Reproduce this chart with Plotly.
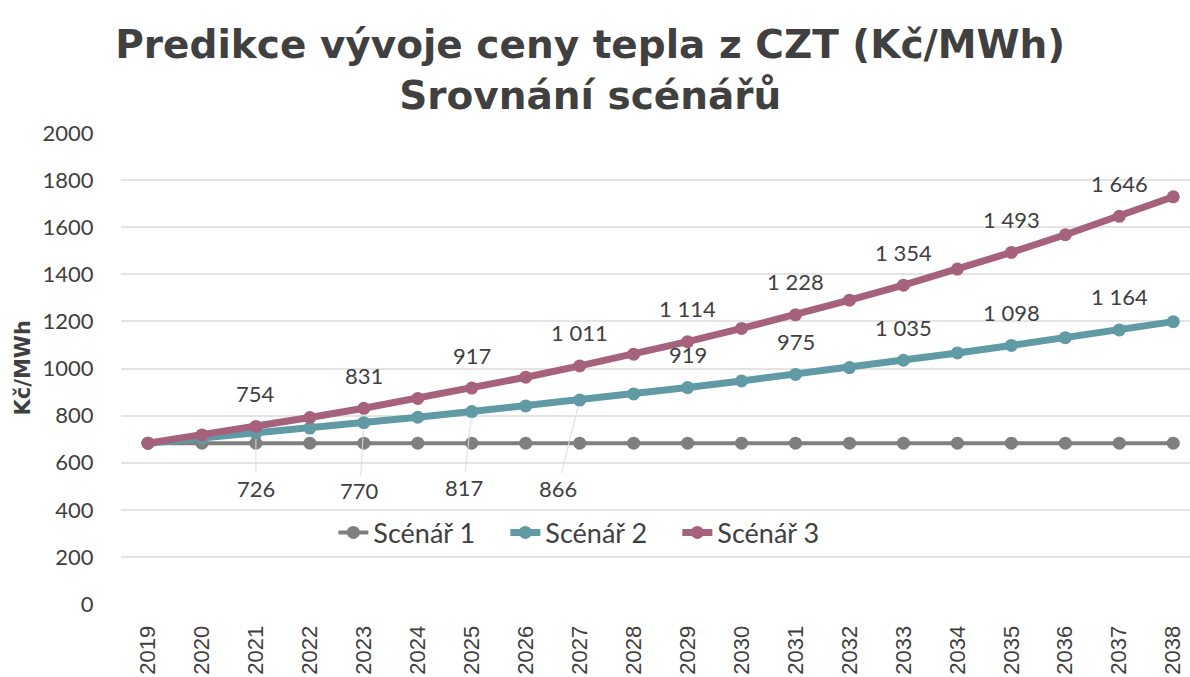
import plotly.graph_objects as go

years = [str(y) for y in range(2019, 2039)]
scenar1 = [683] * 20
scenar2 = [683, 704, 726, 747, 770, 793, 817, 841, 866, 892, 919, 947, 975, 1004, 1035, 1066, 1098, 1131, 1164, 1199]
scenar3 = [683, 718, 754, 792, 831, 873, 917, 963, 1011, 1061, 1114, 1170, 1228, 1290, 1354, 1422, 1493, 1568, 1646, 1729]
names = ["Scénář 1", "Scénář 2", "Scénář 3"]
colors = ["#7f7f7f", "#5f9aa5", "#a6627c"]
yticks = list(range(0, 2001, 200))

# labelled years (every other year from 2021)
label_idx = list(range(2, 20, 2))
# Scenario 2 labels below the line for these indices
below_idx = [2, 4, 6, 8]
below_ay = [55, 68, 76, 88]
below_ax = [0, -4, -8, -22]


def fmt(v):
    return f"{v:,}".replace(",", " ")


fig = go.Figure()
widths = [4, 7, 7]
for name, vals, col, w in zip(names, [scenar1, scenar2, scenar3], colors, widths):
    fig.add_trace(go.Scatter(
        x=years, y=vals, name=name, mode="lines+markers",
        line=dict(color=col, width=w),
        marker=dict(color=col, size=13),
    ))

lab_font = dict(family="Lato, Liberation Sans, sans-serif", size=22, color="#404040")
for i in label_idx:
    fig.add_annotation(x=i, y=scenar3[i], text=fmt(scenar3[i]), showarrow=False,
                       yshift=33, font=lab_font)
    if i in below_idx:
        k = below_idx.index(i)
        fig.add_annotation(x=i, y=scenar2[i], text=fmt(scenar2[i]), showarrow=True,
                           arrowhead=0, arrowwidth=1, arrowcolor="#dddddd", standoff=6,
                           ax=below_ax[k], ay=below_ay[k], font=lab_font)
    else:
        fig.add_annotation(x=i, y=scenar2[i], text=fmt(scenar2[i]), showarrow=False,
                           yshift=33, font=lab_font)

fig.add_annotation(xref="paper", yref="paper", x=-0.0926, y=0.5, xanchor="center", yanchor="middle",
                   text="<b>Kč/MWh</b>", textangle=-90, showarrow=False,
                   font=dict(family="DejaVu Sans, sans-serif", size=21, color="#404040"))

fig.update_layout(
    width=1190, height=677,
    paper_bgcolor="white", plot_bgcolor="white",
    margin=dict(l=121, r=0, t=133, b=73, autoexpand=False),
    title=dict(
        text="<b>Predikce vývoje ceny tepla z CZT (Kč/MWh)</b><br><b>Srovnání scénářů</b>",
        x=0.496, xanchor="center", y=0.914, yanchor="top",
        font=dict(family="DejaVu Sans, sans-serif", size=39, color="#404040"),
    ),
    showlegend=True,
    legend=dict(orientation="h", x=0.44, xanchor="center", y=0.151, yanchor="middle",
                font=dict(family="Lato, sans-serif", size=27, color="#404040"),
                entrywidth=127, entrywidthmode="pixels",
                bgcolor="rgba(255,255,255,0)"),
    xaxis=dict(type="category", range=[-0.5, 19.31], tickangle=-90, automargin=False,
               tickfont=dict(family="Liberation Sans, Arial, sans-serif", size=22, color="#404040"),
               showgrid=False, showline=False, ticks="outside", ticklen=12, tickcolor="white",
               zeroline=False),
    yaxis=dict(range=[0, 2000], tickvals=yticks, ticktext=[str(v) for v in yticks], automargin=False,
               tickfont=dict(family="Lato, sans-serif", size=22, color="#404040"),
               gridcolor="#e4e4e4", gridwidth=2, zeroline=False, showline=False,
               ticks="outside", ticklen=22, tickcolor="white"),
)

fig.write_html("out.html", config={"displayModeBar": False},
               post_script="document.body.style.margin='0';")
